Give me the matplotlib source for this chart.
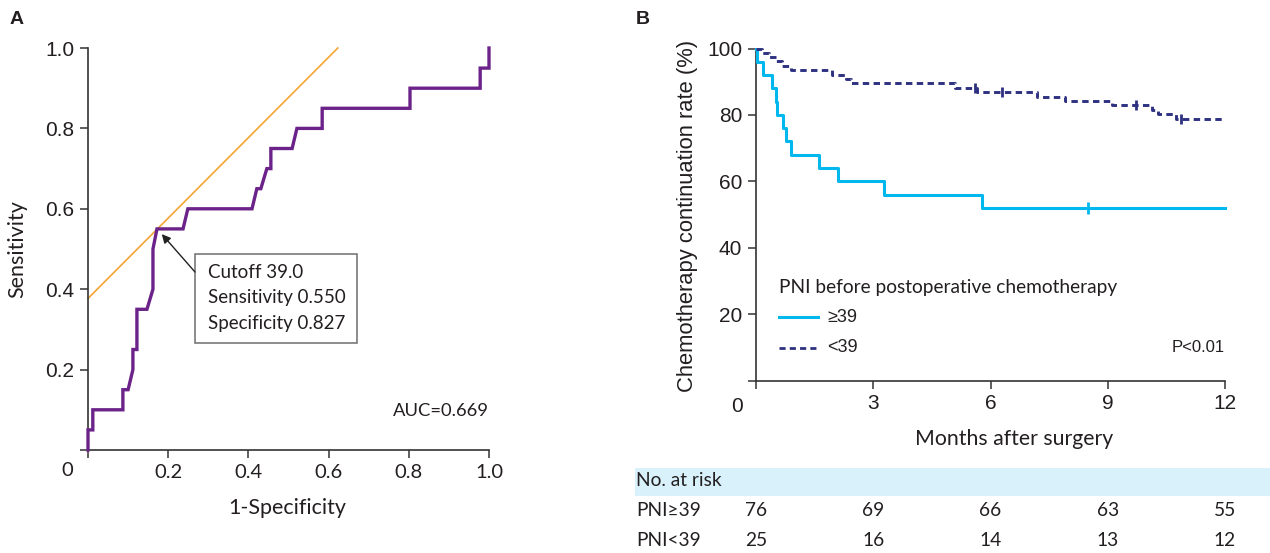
import matplotlib
matplotlib.use("Agg")
import matplotlib.pyplot as plt
from matplotlib.patches import Rectangle

# ---------------- data ----------------
# Panel A: ROC curve vertices (1-specificity, sensitivity)
roc_fpr = [0, 0, 0.012, 0.012, 0.087, 0.087, 0.100, 0.112, 0.112, 0.122, 0.122,
           0.147, 0.162, 0.162, 0.172, 0.237, 0.249, 0.409, 0.421, 0.431, 0.446,
           0.456, 0.456, 0.509, 0.521, 0.584, 0.584, 0.803, 0.803, 0.978, 0.978,
           1.0, 1.0]
roc_tpr = [0, 0.05, 0.05, 0.10, 0.10, 0.15, 0.15, 0.20, 0.25, 0.25, 0.35,
           0.35, 0.40, 0.50, 0.55, 0.55, 0.60, 0.60, 0.65, 0.65, 0.70,
           0.70, 0.75, 0.75, 0.80, 0.80, 0.85, 0.85, 0.90, 0.90, 0.95,
           0.95, 1.0]
cutoff_fpr = 0.173
cutoff_sens = 0.550
youden_intercept = 0.377
auc_text = "AUC=0.669"
box_lines = ["Cutoff 39.0", "Sensitivity 0.550", "Specificity 0.827"]

# Panel B: Kaplan-Meier curves (months, %)
km_hi_t = [0, 0.02, 0.18, 0.41, 0.50, 0.53, 0.69, 0.78, 0.89, 1.61, 2.10, 3.28, 5.78, 12]
km_hi_s = [100, 96, 92, 88, 84, 80, 76, 72, 68, 64, 60, 56, 52, 52]
km_hi_cens_t = [8.5]
km_hi_cens_s = [52]

km_lo_t = [0, 0.15, 0.33, 0.50, 0.67, 0.89, 1.95, 2.30, 2.43, 5.09, 5.65, 7.19,
           7.90, 9.10, 10.13, 10.29, 10.75, 12]
km_lo_s = [100, 98.7, 97.4, 96.1, 94.7, 93.4, 92.1, 90.8, 89.5, 88.2, 86.8, 85.5,
           84.2, 82.9, 81.6, 80.3, 78.9, 78.9]
km_lo_cens_t = [5.6, 6.3, 9.72, 10.87]
km_lo_cens_s = [88.2, 86.8, 82.9, 78.9]

legend_title = "PNI before postoperative chemotherapy"
legend_labels = ["≥39", "<39"]
p_text = "P<0.01"

risk_times = [0, 3, 6, 9, 12]
risk_rows = ["PNI≥39", "PNI<39"]
risk_hi = [76, 69, 66, 63, 55]
risk_lo = [25, 16, 14, 13, 12]

# ---------------- style ----------------
W, H = 1270, 553
HUM = ["Lato", "DejaVu Sans"]
ARI = ["Liberation Sans", "DejaVu Sans"]
TXT = "#231f20"
SPINE = "#333333"
PURPLE = "#6b2289"
ORANGE = "#f7a533"
CYAN = "#00b7ee"
NAVY = "#2e3180"

fig = plt.figure(figsize=(W / 100, H / 100), dpi=100)


def fx(px):
    return px / W


def fy(py):
    return 1 - py / H


def style_axes(ax):
    for s in ["top", "right"]:
        ax.spines[s].set_visible(False)
    for s in ["left", "bottom"]:
        ax.spines[s].set_color(SPINE)
        ax.spines[s].set_linewidth(1.2)
    ax.tick_params(length=6, width=1.1, color=SPINE, pad=4, labelcolor=TXT)


# ---------------- Panel A ----------------
axA = fig.add_axes([fx(88), fy(450), fx(401), 402 / H])
style_axes(axA)
axA.set_xlim(0, 1)
axA.set_ylim(0, 1)
axA.plot([0, 1 - youden_intercept], [youden_intercept, 1.0], color=ORANGE, lw=1.2,
         clip_on=False, zorder=2)
axA.plot(roc_fpr, roc_tpr, color=PURPLE, lw=2.4, clip_on=False, zorder=3,
         solid_joinstyle="miter")
axA.set_yticks([0, 0.2, 0.4, 0.6, 0.8, 1.0])
axA.set_yticklabels(["", "0.2", "0.4", "0.6", "0.8", "1.0"], fontfamily=ARI, fontsize=15)
axA.set_xticks([0, 0.2, 0.4, 0.6, 0.8, 1.0])
axA.set_xticklabels(["", "0.2", "0.4", "0.6", "0.8", "1.0"], fontfamily=HUM, fontsize=14.5)
fig.text(fx(67), fy(470), "0", fontfamily=HUM, fontsize=14.5, color=TXT, ha="center", va="center")
fig.text(fx(17), fy(249), "Sensitivity", fontfamily=HUM, fontsize=15.5, color=TXT,
         rotation=90, ha="center", va="center")
fig.text(fx(287), fy(508), "1-Specificity", fontfamily=HUM, fontsize=15.5, color=TXT,
         ha="center", va="center")
axA.text(1.0, (450 - 411) / 402, auc_text, fontfamily=HUM, fontsize=13.2, color=TXT,
         ha="right", va="center")

# annotation box
bx0, bx1 = (195 - 88) / 401, (357 - 88) / 401
by0, by1 = (450 - 343) / 402, (450 - 254) / 402
axA.add_patch(Rectangle((bx0, by0), bx1 - bx0, by1 - by0, facecolor="white",
                        edgecolor="#6d6d6d", lw=1.1, zorder=4))
for i, line in enumerate(box_lines):
    axA.text((208 - 88) / 401, (450 - (272 + 26 * i)) / 402, line, fontfamily=HUM,
             fontsize=13.5, color=TXT, ha="left", va="center", zorder=5)
axA.annotate("", xy=(cutoff_fpr + 0.011, cutoff_sens - 0.013),
             xytext=(bx0, (450 - 272) / 402),
             arrowprops=dict(arrowstyle="-|>", color="#222222", lw=1.0,
                             mutation_scale=13, shrinkA=0, shrinkB=0), zorder=5)

fig.text(fx(10), fy(20), "A", fontfamily=ARI, fontsize=14, fontweight="bold",
         color=TXT, ha="left", va="center")

# ---------------- Panel B ----------------
axB = fig.add_axes([fx(756), fy(380.5), fx(469), 332 / H])
style_axes(axB)
axB.set_xlim(0, 12)
axB.set_ylim(0, 100)
axB.step(km_hi_t, km_hi_s, where="post", color=CYAN, lw=2.2, clip_on=False, zorder=3)
axB.plot(km_hi_cens_t, km_hi_cens_s, ls="none", marker="|", ms=8, mew=2,
         color=CYAN, clip_on=False, zorder=3)
axB.step(km_lo_t, km_lo_s, where="post", color=NAVY, lw=2.1, ls=(0, (2.2, 1.5)),
         clip_on=False, zorder=4)
axB.plot(km_lo_cens_t, km_lo_cens_s, ls="none", marker="|", ms=7, mew=2,
         color=NAVY, clip_on=False, zorder=4)
axB.set_yticks([0, 20, 40, 60, 80, 100])
axB.set_yticklabels(["", "20", "40", "60", "80", "100"], fontfamily=ARI, fontsize=15)
axB.set_xticks(risk_times)
axB.set_xticklabels([""] + [str(t) for t in risk_times[1:]], fontfamily=ARI, fontsize=15)
fig.text(fx(737), fy(407), "0", fontfamily=ARI, fontsize=15, color=TXT,
         ha="center", va="center")
fig.text(fx(687), fy(216), "Chemotherapy continuation rate (%)", fontfamily=ARI,
         fontsize=15.8, color=TXT, rotation=90, ha="center", va="center")
fig.text(fx(1014), fy(439), "Months after surgery", fontfamily=HUM, fontsize=15.3,
         color=TXT, ha="center", va="center")

# legend
fig.text(fx(779), fy(287), legend_title, fontfamily=HUM, fontsize=13.8, color=TXT,
         ha="left", va="center")
fig.add_artist(plt.Line2D([fx(779), fx(818)], [fy(317), fy(317)], color=CYAN, lw=2.2))
fig.add_artist(plt.Line2D([fx(779), fx(818)], [fy(348), fy(348)], color=NAVY, lw=2.0,
                          ls=(0, (2.2, 1.5))))
fig.text(fx(827), fy(317), legend_labels[0], fontfamily=ARI, fontsize=13, color=TXT,
         ha="left", va="center")
fig.text(fx(827), fy(347), legend_labels[1], fontfamily=ARI, fontsize=13, color=TXT,
         ha="left", va="center")
axB.text(12, (380.5 - 348) / 332 * 100, p_text, fontfamily=ARI, fontsize=12, color=TXT,
         ha="right", va="center")

fig.text(fx(643), fy(20), "B", fontfamily=ARI, fontsize=14, fontweight="bold",
         color=TXT, ha="center", va="center")

# number at risk table
fig.add_artist(Rectangle((fx(635), fy(496)), 1 - fx(635), (496 - 468) / H,
                         transform=fig.transFigure, facecolor="#d9f1fb",
                         edgecolor="none", zorder=0))
fig.text(fx(636), fy(481), "No. at risk", fontfamily=HUM, fontsize=13.8, color=TXT,
         ha="left", va="center")
row_y = [511, 540]
for label, vals, yy in zip(risk_rows, [risk_hi, risk_lo], row_y):
    fig.text(fx(636), fy(yy), label, fontfamily=HUM, fontsize=13.8, color=TXT,
             ha="left", va="center")
    for t, v in zip(risk_times, vals):
        xpix = 756 + t / 12 * 469
        fig.text(fx(xpix), fy(yy), str(v), fontfamily=HUM, fontsize=13.8, color=TXT,
                 ha="center", va="center")

fig.savefig("out.png", dpi=100)
